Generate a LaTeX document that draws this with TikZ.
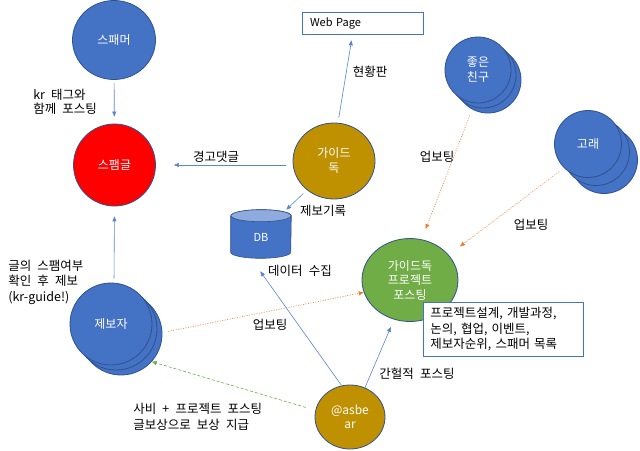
\documentclass[tikz,border=0pt]{standalone}
\usepackage{fontspec}
\setmainfont[WordSpace=2.2]{Noto Sans CJK KR}
\usetikzlibrary{arrows.meta,shapes.geometric}

\definecolor{obblue}{HTML}{4472C4}
\definecolor{edgeblue}{HTML}{2F528F}
\definecolor{linkblue}{HTML}{5B85D0}
\definecolor{dbtop}{HTML}{8FAADC}
\definecolor{spamred}{HTML}{FF0000}
\definecolor{gold}{HTML}{BF9000}
\definecolor{leafgreen}{HTML}{70AD47}
\definecolor{uporange}{HTML}{ED7D31}

\begin{document}
\begin{tikzpicture}[x=1pt,y=-1pt,line width=0.6pt,>={Triangle[length=5pt,width=4pt]},
  blob/.style={ellipse,draw=edgeblue,line width=0.8pt,inner sep=0pt,text=white,align=center,font=\fontsize{12}{15}\selectfont},
  conn/.style={->,draw=linkblue},
  upvote/.style={->,draw=uporange,dash pattern=on 1pt off 1.5pt},
  reward/.style={->,draw=leafgreen,dash pattern=on 3pt off 2pt},
  lbl/.style={inner sep=0pt,align=left,font=\fontsize{12.5}{15.5}\selectfont},
  note/.style={draw=obblue,fill=white,line width=0.8pt,align=left,font=\fontsize{12.5}{15.5}\selectfont}]
  \fill[white] (0,0) rectangle (640,450);
  \useasboundingbox (0,0) rectangle (640,450);

  % spammer and spam post
  \node[blob,fill=obblue,minimum width=83pt,minimum height=79pt] (spammer) at (114,40) {스패머};
  \node[blob,fill=spamred,minimum size=82pt] (spam) at (114.5,165) {스팸글};
  % guide dog, web page
  \node[blob,fill=gold,minimum width=82pt,minimum height=76pt] (guide) at (334,161) {가이드\\독};
  \node[draw=obblue,fill=white,line width=0.8pt,minimum height=22pt,text width=105pt,inner xsep=8pt,align=left,font=\fontsize{11}{13}\selectfont] (web) at (362.5,23) {Web Page};

  % stacked circles
  \foreach \d/\n in {10/friendC,5/friendB}
    \node[blob,fill=obblue,minimum size=66pt] (\n) at (478+\d,70+\d) {};
  \node[blob,fill=obblue,minimum size=66pt] (friend) at (478,70) {좋은\\친구};
  \foreach \d/\n in {16/whaleC,8/whaleB}
    \node[blob,fill=obblue,minimum size=67pt] (\n) at (588+\d,144+\d) {};
  \node[blob,fill=obblue,minimum size=67pt] (whale) at (588,144) {고래};
  \foreach \d/\n in {10/repC,5/repB}
    \node[blob,fill=obblue,minimum size=82pt] (\n) at (111+\d,324+\d) {};
  \node[blob,fill=obblue,minimum size=82pt] (rep) at (111,324) {제보자};

  % project post and details
  \node[blob,fill=leafgreen,minimum width=96pt,minimum height=83pt,font=\fontsize{12}{14.5}\selectfont] (proj) at (410,280) {가이드독\\프로젝트\\포스팅};
  \node[note,anchor=north west,minimum height=54pt,text width=146pt,inner xsep=7pt] (detail) at (423,302)
    {프로젝트설계, 개발과정,\\논의, 협업, 이벤트,\\제보자순위, 스패머 목록};
  \node[blob,fill=gold,minimum width=70pt,minimum height=64pt,font=\fontsize{12}{14}\selectfont] (asb) at (350,417) {@asbe\\ar};

  % DB cylinder
  \node[minimum width=60pt,minimum height=48pt,inner sep=0pt] (db) at (261,234) {};
  \filldraw[draw=edgeblue,fill=obblue] ([yshift=-6pt]db.north west) -- ([yshift=6pt]db.south west)
    arc[start angle=180,end angle=360,x radius=30pt,y radius=6pt] -- ([yshift=-6pt]db.north east)
    arc[start angle=0,end angle=180,x radius=30pt,y radius=6pt] -- cycle;
  \filldraw[draw=edgeblue,fill=dbtop] ([yshift=-6pt]db.north) ellipse[x radius=30pt,y radius=6pt];
  \node[text=white,inner sep=0pt,font=\fontsize{11}{13}\selectfont] (dblabel) at ([yshift=-3pt]db.center) {DB};

  % connectors
  \draw[conn,shorten <=3pt,shorten >=7pt] (spammer) -- (spam);
  \draw[conn,shorten <=5pt,shorten >=6pt] ([xshift=4pt]guide.north) -- ([xshift=-10pt]web.south);
  \draw[conn,shorten <=7pt,shorten >=18pt] (guide.west |- spam.east) -- (spam.east);
  \draw[conn,shorten <=5pt] (guide.-133) -- ([xshift=-5pt]db.north east);
  \draw[conn,shorten <=4pt,shorten >=10pt] ([xshift=3pt]rep.north) -- (spam.south);
  \draw[upvote,shorten <=13pt,shorten >=11pt] (friend.-96) -- (proj.74);
  \draw[upvote,shorten <=6pt,shorten >=14pt] (whale.-135) -- (proj.33);
  \draw[upvote,shorten <=6pt] (repC.2) -- (proj.195);
  \draw[conn,shorten >=16pt] (asb.105) -- ([xshift=-10pt]db.south);
  \draw[conn,shorten >=8pt] (asb.63) -- (proj.248);
  \draw[reward,shorten <=10pt] (asb.169) -- (repC.-42);

  % labels
  \node[lbl,anchor=west,font=\fontsize{12.5}{14}\selectfont] (lkr) at (33,102) {kr 태그와\\함께 포스팅};
  \node[lbl,anchor=west] (lcheck) at (8,282) {글의 스팸여부\\확인 후 제보\\(kr-guide!)};
  \node[lbl,anchor=west,font=\fontsize{12.5}{16}\selectfont] (lreward) at (133,417) {사비 + 프로젝트 포스팅\\글보상으로 보상 지급};
  \node[lbl] (lwarn) at (216,157) {경고댓글};
  \node[lbl] (lboard) at (370,72) {현황판};
  \node[lbl] (lrecord) at (323,211) {제보기록};
  \node[lbl] (lupA) at (437,157) {업보팅};
  \node[lbl] (lupB) at (531,225) {업보팅};
  \node[lbl] (lupC) at (270,325) {업보팅};
  \node[lbl] (lcollect) at (300,271) {데이터 수집};
  \node[lbl] (lpost) at (417,374) {간헐적 포스팅};
\end{tikzpicture}
\end{document}
